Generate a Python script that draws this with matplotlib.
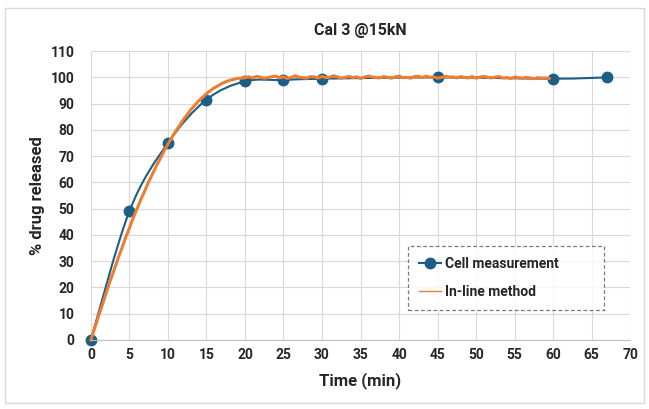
import numpy as np
import matplotlib
matplotlib.use('Agg')
import matplotlib.pyplot as plt
from matplotlib.path import Path
from matplotlib.patches import PathPatch, Rectangle
from matplotlib.lines import Line2D

plt.rcParams['font.family'] = ['Roboto', 'DejaVu Sans']
plt.rcParams['font.weight'] = 'bold'

# ---- data ----
cell_time = [0, 5, 10, 15, 20, 25, 30, 45, 60, 67]
cell_pct = [0, 49, 75, 91.5, 98.5, 99, 99.5, 100, 99.5, 100]

INLINE_STEP = 0.5  # min between in-line samples
inline_pct = [
    0, 4.5, 9.1, 13.4, 18.0, 22.4, 26.5, 30.8, 34.7, 38.9,
    42.6, 46.5, 50.0, 53.6, 56.8, 60.2, 63.2, 66.3, 69.0, 71.9,
    74.6, 77.0, 79.5, 81.6, 83.9, 85.8, 87.8, 89.4, 91.1, 92.4,
    93.8, 94.9, 96.0, 96.8, 97.7, 98.3, 98.9, 99.2, 99.6, 99.7,
    99.9,
    100.2, 99.8, 100.4, 100.1, 99.7, 99.9, 100.3, 100.5, 99.8, 100.2,
    99.6, 100.0, 100.6, 100.1, 99.9, 99.7, 100.3, 100.2, 99.8, 100.4,
    99.9, 100.1, 100.6, 100.2, 99.7, 100.0, 100.4, 99.9, 100.2, 99.6,
    100.1, 100.5, 100.2, 99.9, 99.8, 100.3, 100.0, 99.7, 100.2, 100.5,
    99.9, 100.0, 99.7, 100.3, 100.4, 99.9, 100.5, 100.0, 100.2, 99.7,
    100.0, 100.4, 100.1, 100.2, 99.8, 100.3, 100.0, 99.8, 100.3, 99.7,
    100.1, 100.4, 100.0, 99.8, 100.1, 100.3, 99.8, 99.9, 99.6, 100.1,
    99.9, 99.7, 100.0, 99.8, 99.5, 99.9, 99.7, 99.8, 99.6,
]
inline_time = np.arange(len(inline_pct)) * INLINE_STEP

x_ticks = list(range(0, 71, 5))
y_ticks = list(range(0, 111, 10))

BLUE = '#1b5e86'
ORANGE = '#ed7d31'
GRID = '#d9d9d9'
TEXT = '#262626'


def smooth_path(xs, ys):
    # Excel-style smoothed line: cubic bezier segments through the points
    pts = np.column_stack([xs, ys]).astype(float)
    n = len(pts)
    verts = [pts[0]]
    codes = [Path.MOVETO]
    for i in range(n - 1):
        p0 = pts[max(i - 1, 0)]
        p1 = pts[i]
        p2 = pts[i + 1]
        p3 = pts[min(i + 2, n - 1)]
        c1 = p1 + (p2 - p0) / 6.0
        c2 = p2 - (p3 - p1) / 6.0
        verts += [c1, c2, p2]
        codes += [Path.CURVE4] * 3
    return Path(verts, codes)


fig = plt.figure(figsize=(6.49, 4.09), dpi=100)
ax = fig.add_axes([0.140, 0.169, 0.831, 0.706])

# outer chart frame
fig.patches.append(Rectangle((5 / 649, 6 / 409), 639 / 649, 395 / 409,
                             transform=fig.transFigure, fill=False,
                             edgecolor=GRID, linewidth=1.0))

ax.add_patch(PathPatch(smooth_path(cell_time, cell_pct), transform=ax.transData,
                       fill=False, edgecolor=BLUE, linewidth=1.5, zorder=3))
ax.plot(cell_time, cell_pct, linestyle='none', marker='o', markersize=7.5,
        color=BLUE, zorder=4)
ax.plot(inline_time, inline_pct, color=ORANGE, linewidth=2.2, zorder=5)

ax.set_xlim(0, 70)
ax.set_ylim(0, 110)
ax.set_xticks(x_ticks)
ax.set_yticks(y_ticks)
ax.tick_params(axis='x', length=0, labelsize=10, colors=TEXT, pad=6)
ax.tick_params(axis='y', length=0, labelsize=10, colors=TEXT, pad=12)
for lbl in ax.get_xticklabels() + ax.get_yticklabels():
    lbl.set_fontweight('bold')
ax.grid(True, color=GRID, linewidth=0.8)
ax.set_axisbelow(True)
for s in ['top', 'right', 'left']:
    ax.spines[s].set_visible(False)
ax.spines['bottom'].set_color('#bfbfbf')
ax.spines['bottom'].set_zorder(6)
for art in ax.lines + ax.patches:
    art.set_clip_on(False)

fig.text(0.5 * (0.140 + 0.971), 1 - 30 / 409, 'Cal 3 @15kN', fontsize=11.5,
         fontweight='bold', color=TEXT, ha='center', va='center')
ax.set_xlabel('Time (min)', fontsize=12, fontweight='bold', color=TEXT, labelpad=7)
ax.set_ylabel('% drug released', fontsize=12, fontweight='bold', color=TEXT, labelpad=4)

handles = [
    Line2D([], [], color=BLUE, marker='o', markersize=7.5, linewidth=1.5),
    Line2D([], [], color=ORANGE, linewidth=1.0),
]
leg = ax.legend(handles, ['Cell measurement', 'In-line method'],
                loc='lower left', bbox_to_anchor=(0.588, 0.104, 0.364, 0.215),
                mode='expand', borderaxespad=0, frameon=True, fancybox=False,
                handlelength=1.6, handletextpad=0.3, borderpad=0.8,
                labelspacing=1.0, prop={'weight': 'bold', 'size': 10})
frame = leg.get_frame()
frame.set_edgecolor('#595959')
frame.set_linestyle((0, (3, 2)))
frame.set_linewidth(0.9)
for t in leg.get_texts():
    t.set_color(TEXT)

fig.savefig('out.png', dpi=100)
